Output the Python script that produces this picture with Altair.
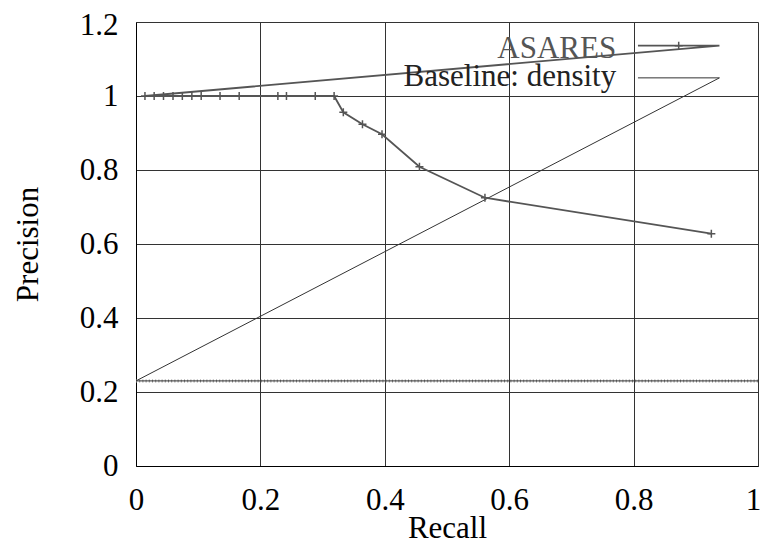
import altair as alt
import pandas as pd

# ---- data ----
asares_recall = [0.0144, 0.0292, 0.0442, 0.0595, 0.0745, 0.0898, 0.1048, 0.1351,
                 0.1659, 0.2281, 0.2419, 0.2882, 0.3185, 0.3333, 0.3641, 0.3955,
                 0.4557, 0.561, 0.925]
asares_precision = [1.0, 1.0, 1.0, 1.0, 1.0, 1.0, 1.0, 1.0,
                    1.0, 1.0, 1.0, 1.0, 1.0, 0.956, 0.9235, 0.8965,
                    0.8089, 0.725, 0.628]
baseline_recall = [0.0, 1.0]
baseline_precision = [0.23, 0.23]

series_names = ["ASARES", "Baseline: density"]
x_ticks = [0, 0.2, 0.4, 0.6, 0.8, 1]
y_ticks = [0, 0.2, 0.4, 0.6, 0.8, 1, 1.2]

# legend key geometry (in data units, as in the gnuplot-style key)
LEG_X0, LEG_XM, LEG_X1 = 0.807, 0.8725, 0.938
LEG_Y = [1.136, 1.049]
LEG_TEXT_X = 0.772
LEG_TEXT_Y = [1.1027, 1.027]

FONT = "Liberation Serif"
FS = 31
GRAY = "#555555"
DARK = "#333333"
W, H = 622, 444

# ASARES path: legend sample, then jump to the data (as drawn in the reference)
a_rows = [{"r": LEG_X0, "p": LEG_Y[0], "o": 0}, {"r": LEG_X1, "p": LEG_Y[0], "o": 1}]
for i, (r, p) in enumerate(zip(asares_recall, asares_precision)):
    a_rows.append({"r": r, "p": p, "o": i + 2})
a_line = pd.DataFrame(a_rows)
a_pts = pd.DataFrame({"r": asares_recall + [LEG_XM], "p": asares_precision + [LEG_Y[0]]})

b_rows = [{"r": LEG_X0, "p": LEG_Y[1], "o": 0}, {"r": LEG_X1, "p": LEG_Y[1], "o": 1}]
for i, (r, p) in enumerate(zip(baseline_recall, baseline_precision)):
    b_rows.append({"r": r, "p": p, "o": i + 2})
b_line = pd.DataFrame(b_rows)
b_data = pd.DataFrame({"r": baseline_recall, "p": baseline_precision})

leg_text = pd.DataFrame({"r": [LEG_TEXT_X, LEG_TEXT_X], "p": LEG_TEXT_Y,
                         "label": series_names, "c": [GRAY, "#222222"]})

xs = alt.Scale(domain=[0, 1], nice=False)
ys = alt.Scale(domain=[0, 1.2], nice=False)

x_axis = alt.Axis(values=x_ticks, format="~g", grid=True, gridColor=DARK, gridWidth=1,
                  ticks=False, domainColor="black", labelFont=FONT, labelFontSize=FS,
                  labelColor="black", labelPadding=19, labelFlush=False,
                  labelOffset={"condition": {"test": "datum.value >= 1", "value": -5}, "value": 0},
                  title="Recall", titleFont=FONT, titleFontSize=FS, titleFontWeight="normal",
                  titleColor="black", titleX=W / 2, titleY=71, titleBaseline="alphabetic",
                  titleAlign="center")
y_axis = alt.Axis(values=y_ticks, format="~g", grid=True, gridColor=DARK, gridWidth=1,
                  ticks=False, domainColor="black", labelFont=FONT, labelFontSize=FS,
                  labelColor="black", labelPadding=18, labelFlush=False,
                  labelOffset={"condition": {"test": "datum.value >= 1.2", "value": 3}, "value": 0},
                  title="Precision", titleFont=FONT, titleFontSize=FS, titleFontWeight="normal",
                  titleColor="black", titleX=-99, titleY=H / 2, titleAngle=270,
                  titleBaseline="alphabetic", titleAlign="center")

base_axes = alt.Chart(b_data).mark_line(opacity=0).encode(
    x=alt.X("r:Q", scale=xs, axis=x_axis),
    y=alt.Y("p:Q", scale=ys, axis=y_axis),
)

b_path = alt.Chart(b_line).mark_line(color=DARK, strokeWidth=1).encode(
    x=alt.X("r:Q", scale=xs), y=alt.Y("p:Q", scale=ys), order="o:Q")
b_ticks = alt.Chart(b_data).mark_line(color="#8a8a8a", strokeWidth=3, strokeDash=[1, 2.2]).encode(
    x=alt.X("r:Q", scale=xs), y=alt.Y("p:Q", scale=ys))

a_path = alt.Chart(a_line).mark_line(color=GRAY, strokeWidth=1.8).encode(
    x=alt.X("r:Q", scale=xs), y=alt.Y("p:Q", scale=ys), order="o:Q")
a_marks = alt.Chart(a_pts).mark_point(shape="M-1,0H1M0,-1V1", size=64, filled=False,
                                      color=GRAY, strokeWidth=1.5, opacity=1).encode(
    x=alt.X("r:Q", scale=xs), y=alt.Y("p:Q", scale=ys))

labels = alt.Chart(leg_text).mark_text(font=FONT, fontSize=FS, align="right",
                                       baseline="alphabetic").encode(
    x=alt.X("r:Q", scale=xs), y=alt.Y("p:Q", scale=ys), text="label:N",
    color=alt.Color("c:N", scale=None))

chart = alt.layer(base_axes, b_ticks, b_path, a_path, a_marks, labels).properties(
    width=W, height=H,
    autosize=alt.AutoSizeParams(type="none"),
    padding={"left": 128, "top": 14, "right": 3, "bottom": 78},
).configure_view(stroke="black", strokeWidth=1).configure(background="white")

chart.save("out.html", embed_options={"renderer": "svg", "actions": False})
